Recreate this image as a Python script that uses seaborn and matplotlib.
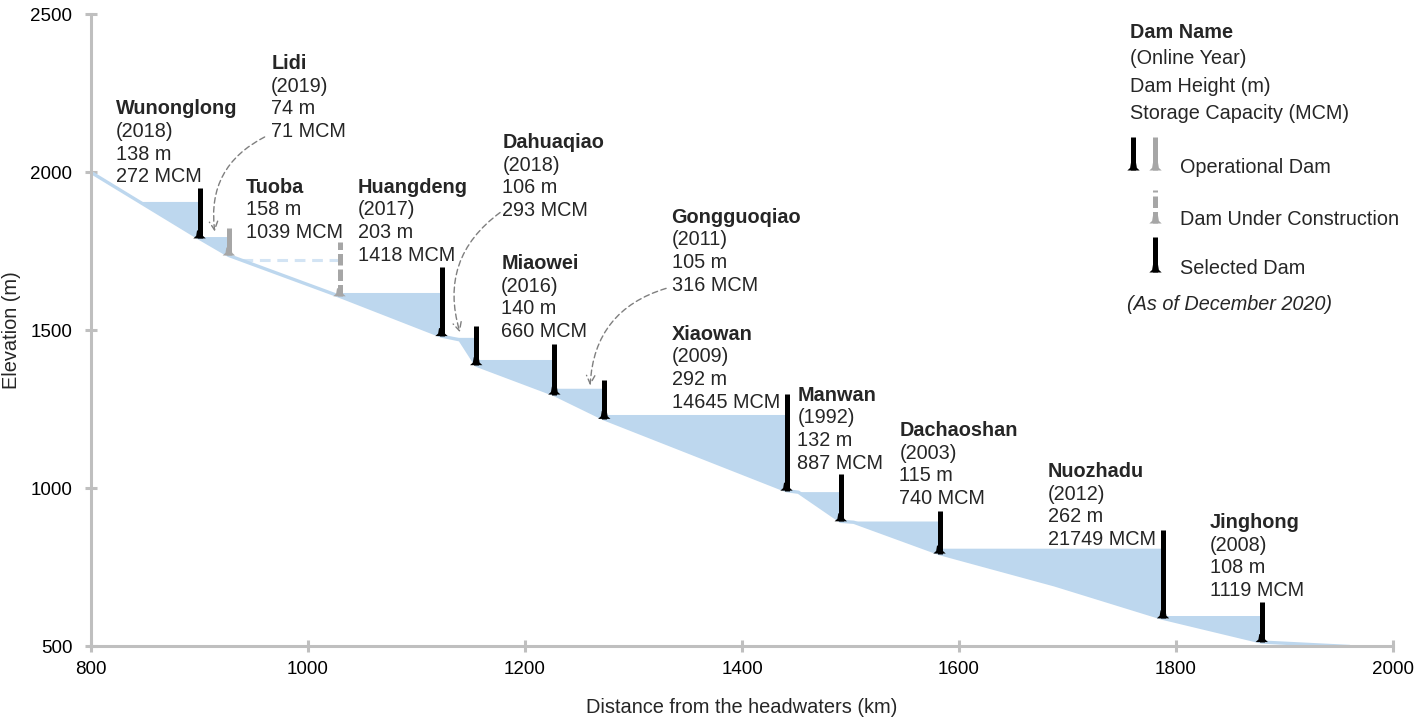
import numpy as np
import pandas as pd
import matplotlib
matplotlib.use("Agg")
from matplotlib import pyplot as plt
from matplotlib.markers import MarkerStyle
from matplotlib.path import Path
import seaborn as sns

# river bed profile along the Lancang (km from headwaters, elevation in m)
bed_km = [800, 900, 927, 1029, 1123, 1140, 1155, 1227, 1273, 1441, 1452, 1491,
          1503, 1582, 1688, 1788, 1879, 1960]
bed_elev = [2000, 1791, 1737, 1608, 1482, 1470, 1390, 1297, 1220, 993, 988, 896,
            893, 794, 695, 589, 514, 500]

# dams, upstream to downstream
dam_names = ["Wunonglong", "Lidi", "Tuoba", "Huangdeng", "Dahuaqiao", "Miaowei",
             "Gongguoqiao", "Xiaowan", "Manwan", "Dachaoshan", "Nuozhadu", "Jinghong"]
dam_km = [900, 927, 1029, 1123, 1155, 1227, 1273, 1441, 1491, 1582, 1788, 1879]
dam_top = [1952, 1825, 1781, 1702, 1515, 1458, 1343, 1299, 1046, 929, 869, 642]
pool_level = [1908, 1797, 1722, 1620, 1478, 1408, 1317, 1234, 990, 897, 811, 598]
online_year = ["2018", "2019", "", "2017", "2018", "2016", "2011", "2009", "1992",
               "2003", "2012", "2008"]
dam_height = [138, 74, 158, 203, 106, 140, 105, 292, 132, 115, 262, 108]
storage_mcm = [272, 71, 1039, 1418, 293, 660, 316, 14645, 887, 740, 21749, 1119]
dam_status = ["selected", "operational", "construction", "selected", "selected",
              "selected", "selected", "selected", "selected", "selected",
              "selected", "selected"]

# where each label block starts (left edge, centre of first line)
label_x = [823, 966, 943, 1046, 1179, 1178, 1335, 1335, 1451, 1545, 1682, 1831]
label_y = [2207, 2351, 1960, 1959, 2101, 1718, 1864, 1494, 1301, 1190, 1060, 899]

# dashed pointer arrows: (dam index, text end, arrow tip)
pointers = [(1, (960, 2112), (914, 1813)),
            (4, (1177, 1873), (1140, 1494)),
            (6, (1330, 1633), (1260, 1326))]

WATER = "#BDD7EE"
GREY = "#A6A6A6"
AXIS = "#BFBFBF"
FS = 14.3
LINE = 16.3
BAR_LW = 3.6
DASH = (0, (2.3, 0.8))
palette = {"selected": "black", "operational": GREY, "construction": GREY}

sns.set_style("ticks")
plt.rcParams["font.family"] = ["Liberation Sans", "DejaVu Sans"]

fig = plt.figure(figsize=(14.16, 7.2), dpi=100)
ax = fig.add_axes([0.0643, 0.1021, 0.9195, 0.878])

bed_x = np.array(bed_km, dtype=float)
bed_y = np.array(bed_elev, dtype=float)
dam_base = [bed_elev[bed_km.index(k)] for k in dam_km]

# reservoirs
for i, km in enumerate(dam_km):
    level = pool_level[i]
    if dam_status[i] == "construction":
        start = np.interp(level, bed_y[::-1], bed_x[::-1])
        ax.hlines(level, start, km, colors="#D3E4F4", linestyles=(0, (3.5, 2.2)),
                  lw=2.2, zorder=1)
        continue
    lo = dam_km[i - 1] if i > 0 else bed_km[0]
    seg = np.where((bed_x >= lo) & (bed_x <= km), bed_y, np.nan)
    ax.fill_between(bed_x, seg, level, where=seg <= level, interpolate=True,
                    color=WATER, lw=0, zorder=1)

river = pd.DataFrame({"km": bed_km, "elev": bed_elev})
sns.lineplot(data=river, x="km", y="elev", color=WATER, lw=2.4, sort=False,
             estimator=None, ax=ax, zorder=2)

dams = pd.DataFrame({"name": dam_names, "km": dam_km, "base": dam_base,
                     "top": dam_top, "status": dam_status})

# dam bars
for _, d in dams.iterrows():
    style = DASH if d["status"] == "construction" else "-"
    ax.plot([d["km"], d["km"]], [d["base"], d["top"]], color=palette[d["status"]],
            lw=BAR_LW, ls=style, solid_capstyle="butt", dash_capstyle="butt",
            zorder=3)

# flared dam footing
foot = MarkerStyle(Path([(-6.2, 0), (6.2, 0), (3.4, 2.6), (2.5, 8),
                         (-2.5, 8), (-3.4, 2.6), (-6.2, 0)]))
FOOT_S = 11.5 ** 2
sns.scatterplot(data=dams, x="km", y="base", hue="status", palette=palette,
                marker=foot, s=FOOT_S, linewidth=0, legend=False, ax=ax, zorder=4)

# dam labels
for i, name in enumerate(dam_names):
    lines = [name]
    if online_year[i]:
        lines.append(f"({online_year[i]})")
    lines += [f"{dam_height[i]} m", f"{storage_mcm[i]} MCM"]
    ax.annotate(lines[0], (label_x[i], label_y[i]), fontsize=FS, fontweight="bold",
                va="center_baseline", ha="left")
    for k, line in enumerate(lines[1:], 1):
        ax.annotate(line, (label_x[i], label_y[i]), xytext=(0, -k * LINE),
                    textcoords="offset points", fontsize=FS,
                    va="center_baseline", ha="left")

for _, start, tip in pointers:
    ax.annotate("", xy=tip, xytext=start,
                arrowprops=dict(arrowstyle="->,head_length=0.6,head_width=0.3",
                                linestyle=(0, (4, 2.5)), color="#7F7F7F", lw=1,
                                connectionstyle="arc3,rad=0.35",
                                shrinkA=0, shrinkB=0))

# legend block (axes fraction)
header = ["Dam Name", "(Online Year)", "Dam Height (m)", "Storage Capacity (MCM)"]
header_y = [0.9745, 0.9335, 0.8885, 0.8465]
for k, (txt, yy) in enumerate(zip(header, header_y)):
    ax.text(0.798, yy, txt, transform=ax.transAxes, fontsize=FS,
            fontweight="bold" if k == 0 else "normal", va="center_baseline")

glyphs = [(0.8003, 0.7532, 0.8054, "black", "-"),
          (0.8172, 0.7532, 0.8054, GREY, "-"),
          (0.8172, 0.6693, 0.7215, GREY, DASH),
          (0.8172, 0.5918, 0.6472, "black", "-")]
for gx, gb, gt, gc, gs in glyphs:
    ax.plot([gx, gx], [gb, gt], color=gc, lw=BAR_LW, ls=gs, solid_capstyle="butt",
            dash_capstyle="butt", transform=ax.transAxes, clip_on=False, zorder=3)
    ax.scatter(gx, gb, marker=foot, s=FOOT_S, color=gc, linewidth=0,
               transform=ax.transAxes, clip_on=False, zorder=4)

for txt, yy in [("Operational Dam", 0.7611), ("Dam Under Construction", 0.6793),
                ("Selected Dam", 0.6013)]:
    ax.text(0.8364, yy, txt, transform=ax.transAxes, fontsize=FS,
            va="center_baseline")
ax.text(0.7957, 0.5443, "(As of December 2020)", transform=ax.transAxes,
        fontsize=FS, fontstyle="italic", va="center_baseline")

# axes
ax.set_xlim(800, 2000)
ax.set_ylim(500, 2500)
ax.set_xticks(np.arange(800, 2001, 200))
ax.set_yticks(np.arange(500, 2501, 500))
sns.despine(ax=ax)
for side in ["left", "bottom"]:
    ax.spines[side].set_color(AXIS)
    ax.spines[side].set_linewidth(2.2)
ax.tick_params(axis="both", direction="inout", length=8, width=2.2, color=AXIS,
               labelsize=13.5, labelcolor="black")
ax.tick_params(axis="x", pad=6.5)
ax.tick_params(axis="y", pad=9.5)
ax.set_xlabel("Distance from the headwaters (km)", fontsize=14.4)
ax.set_ylabel("Elevation (m)", fontsize=14.4)
ax.xaxis.set_label_coords(0.5, -0.081)
ax.yaxis.set_label_coords(-0.054, 0.5)

fig.savefig("out.png", dpi=100)
